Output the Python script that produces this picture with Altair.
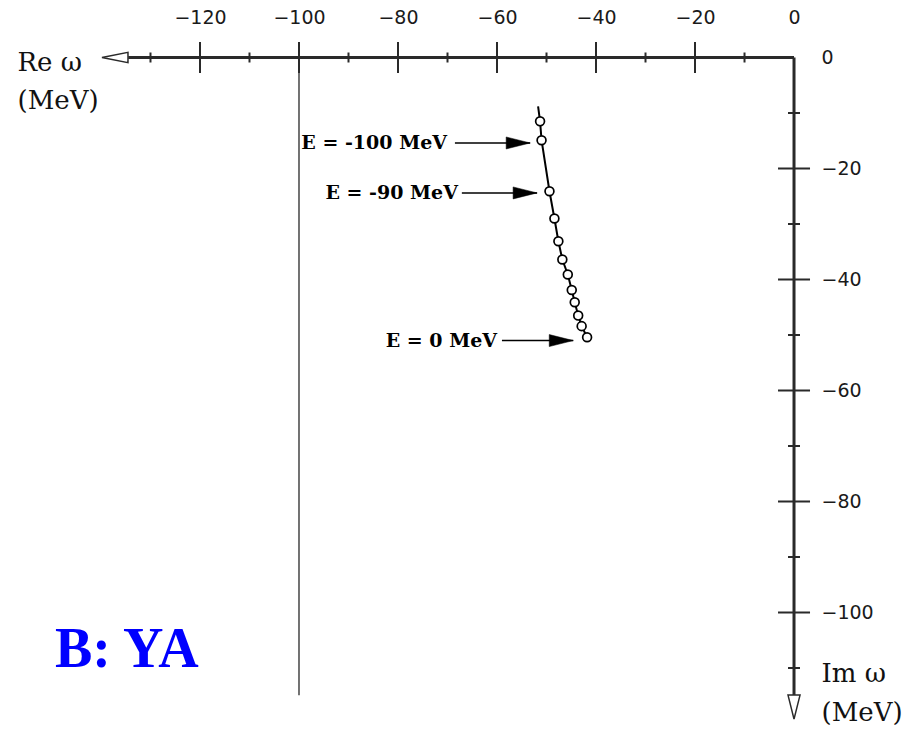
import altair as alt
import pandas as pd

# ---------------- data ----------------
# pole trajectory (Re omega, Im omega) in MeV; first entry is the start of the curve (no marker)
curve_re = [-51.7, -51.3, -51.0, -49.4, -48.4, -47.6, -46.8, -45.7, -44.9, -44.3, -43.6, -42.9, -41.8]
curve_im = [-8.8, -11.5, -14.9, -24.1, -29.0, -33.1, -36.4, -39.1, -41.9, -44.1, -46.5, -48.4, -50.4]
marker_from = 1  # markers are drawn from the second entry onward

# axis ticks / labels
x_label_values = [-120, -100, -80, -60, -40, -20, 0]
y_label_values = [-100, -80, -60, -40, -20, 0]
x_major = [-120, -100, -80, -60, -40, -20]
x_minor = [-130, -110, -90, -70, -50, -30, -10]
y_major = [-20, -40, -60, -80, -100]
y_minor = [-10, -30, -50, -70, -90, -110]

# axis extents (data units)
x_axis_start = -134.5
x_arrow_tip = -139.8
y_axis_end = -114.9
y_arrow_tip = -119.2
ref_line_x = -100

# annotations
ann_text = ["E = -100 MeV", "E = -90 MeV", "E = 0 MeV"]
ann_text_x = [-70.1, -67.9, -60.0]
ann_y = [-15.4, -24.4, -51.0]
arrow_from = [-68.5, -67.1, -59.0]
arrow_to = [-53.3, -51.9, -44.6]

panel_label = "B: YA"

# ---------------- scales ----------------
xs = alt.Scale(domain=[-160.40, 24.44], nice=False, zero=False)
ys = alt.Scale(domain=[-123.51, 10.36], nice=False, zero=False)

curve_df = pd.DataFrame({"re": curve_re, "im": curve_im, "i": list(range(len(curve_re)))})
marker_df = curve_df.iloc[marker_from:]

AX = "#2a2a2a"

# base layer carrying the axes (labels + titles only)
axes_layer = alt.Chart(pd.DataFrame({"re": [0], "im": [0]})).mark_point(opacity=0).encode(
    x=alt.X("re:Q", scale=xs, axis=alt.Axis(
        orient="top", offset=-57.5, domain=False, ticks=False, grid=False,
        values=x_label_values, labelPadding=30, labelFont="DejaVu Sans", labelFontSize=19,
        labelColor="#1a1a1a", labelFlush=False, labelOverlap=False,
        title=["Re ω", "(MeV)"], titleX=17, titleY=12.5, titleAlign="left", titleAngle=0,
        titleBaseline="alphabetic", titleFont="DejaVu Serif", titleFontSize=26,
        titleFontWeight="normal", titleLineHeight=38, titleColor="#111")),
    y=alt.Y("im:Q", scale=ys, axis=alt.Axis(
        orient="right", offset=-121, domain=False, ticks=False, grid=False,
        values=y_label_values, labelPadding=27, labelFont="DejaVu Sans", labelFontSize=19,
        labelColor="#1a1a1a", labelFlush=False, labelOverlap=False, labelAlign="left",
        title=["Im ω", "(MeV)"], titleX=27, titleY=681, titleAlign="left", titleAngle=0,
        titleBaseline="alphabetic", titleFont="DejaVu Serif", titleFontSize=26,
        titleFontWeight="normal", titleLineHeight=39, titleColor="#111")),
)

X = lambda f: alt.X(f, scale=xs)
Y = lambda f: alt.Y(f, scale=ys)

# axis lines
hline = alt.Chart(pd.DataFrame({"a": [x_axis_start], "b": [0], "y": [0]})).mark_rule(
    color=AX, strokeWidth=3).encode(x=X("a:Q"), x2="b:Q", y=Y("y:Q"))
vline = alt.Chart(pd.DataFrame({"x": [0], "a": [0], "b": [y_axis_end]})).mark_rule(
    color=AX, strokeWidth=3).encode(x=X("x:Q"), y=Y("a:Q"), y2="b:Q")
refline = alt.Chart(pd.DataFrame({"x": [ref_line_x], "a": [0], "b": [y_axis_end]})).mark_rule(
    color="#444", strokeWidth=1.5).encode(x=X("x:Q"), y=Y("a:Q"), y2="b:Q")

# axis arrow heads (open)
left_arrow = alt.Chart(pd.DataFrame({"x": [x_arrow_tip], "y": [0]})).mark_point(
    shape="M 0 0 L 2 -0.4 L 2 0.4 Z", size=676, filled=True, fill="white", stroke=AX,
    strokeWidth=1.5, opacity=1).encode(x=X("x:Q"), y=Y("y:Q"))
down_arrow = alt.Chart(pd.DataFrame({"x": [0], "y": [y_arrow_tip]})).mark_point(
    shape="M 0 0 L -0.5 -2 L 0.5 -2 Z", size=576, filled=True, fill="white", stroke=AX,
    strokeWidth=1.5, opacity=1).encode(x=X("x:Q"), y=Y("y:Q"))

# ticks
def xticks(vals, size):
    return alt.Chart(pd.DataFrame({"x": vals, "y": [0] * len(vals)})).mark_tick(
        orient="vertical", size=size, thickness=2, color=AX, opacity=1).encode(x=X("x:Q"), y=Y("y:Q"))

def yticks(vals, size):
    return alt.Chart(pd.DataFrame({"x": [0] * len(vals), "y": vals})).mark_tick(
        orient="horizontal", size=size, thickness=2, color=AX, opacity=1).encode(x=X("x:Q"), y=Y("y:Q"))

# curve and markers
curve = alt.Chart(curve_df).mark_line(color="black", strokeWidth=2).encode(
    x=X("re:Q"), y=Y("im:Q"), order="i:Q")
markers = alt.Chart(marker_df).mark_point(
    shape="circle", filled=True, fill="white", stroke="black", strokeWidth=1.7,
    size=78, opacity=1).encode(x=X("re:Q"), y=Y("im:Q"))

# annotations
ann_df = pd.DataFrame({"t": ann_text, "tx": ann_text_x, "y": ann_y,
                       "a": arrow_from, "b": arrow_to})
ann_txt = alt.Chart(ann_df).mark_text(
    align="right", baseline="middle", font="DejaVu Serif", fontWeight="bold",
    fontSize=19, color="black").encode(x=X("tx:Q"), y=Y("y:Q"), text="t:N")
ann_line = alt.Chart(ann_df).mark_rule(color="black", strokeWidth=1.5).encode(
    x=X("a:Q"), x2="b:Q", y=Y("y:Q"))
ann_head = alt.Chart(ann_df).mark_point(
    shape="M 0 0 L -2 -0.5 L -2 0.5 Z", size=576, filled=True, fill="black",
    stroke="black", strokeWidth=0.5, opacity=1).encode(x=X("b:Q"), y=Y("y:Q"))

label = alt.Chart(pd.DataFrame({"t": [panel_label]})).mark_text(
    align="left", baseline="alphabetic", font="Liberation Serif", fontWeight="bold",
    fontSize=56, color="#0000ff").encode(x=alt.value(55), y=alt.value(667), text="t:N")

chart = alt.layer(
    axes_layer, refline, hline, vline,
    xticks(x_major, 31), xticks(x_minor, 10), yticks(y_major, 32), yticks(y_minor, 12),
    left_arrow, down_arrow,
    curve, markers, ann_line, ann_head, ann_txt, label,
).properties(
    width=915, height=743, padding=0,
    autosize=alt.AutoSizeParams(type="none"),
).configure_view(stroke=None)

chart.save("out.html", embed_options={"renderer": "svg", "actions": False})
